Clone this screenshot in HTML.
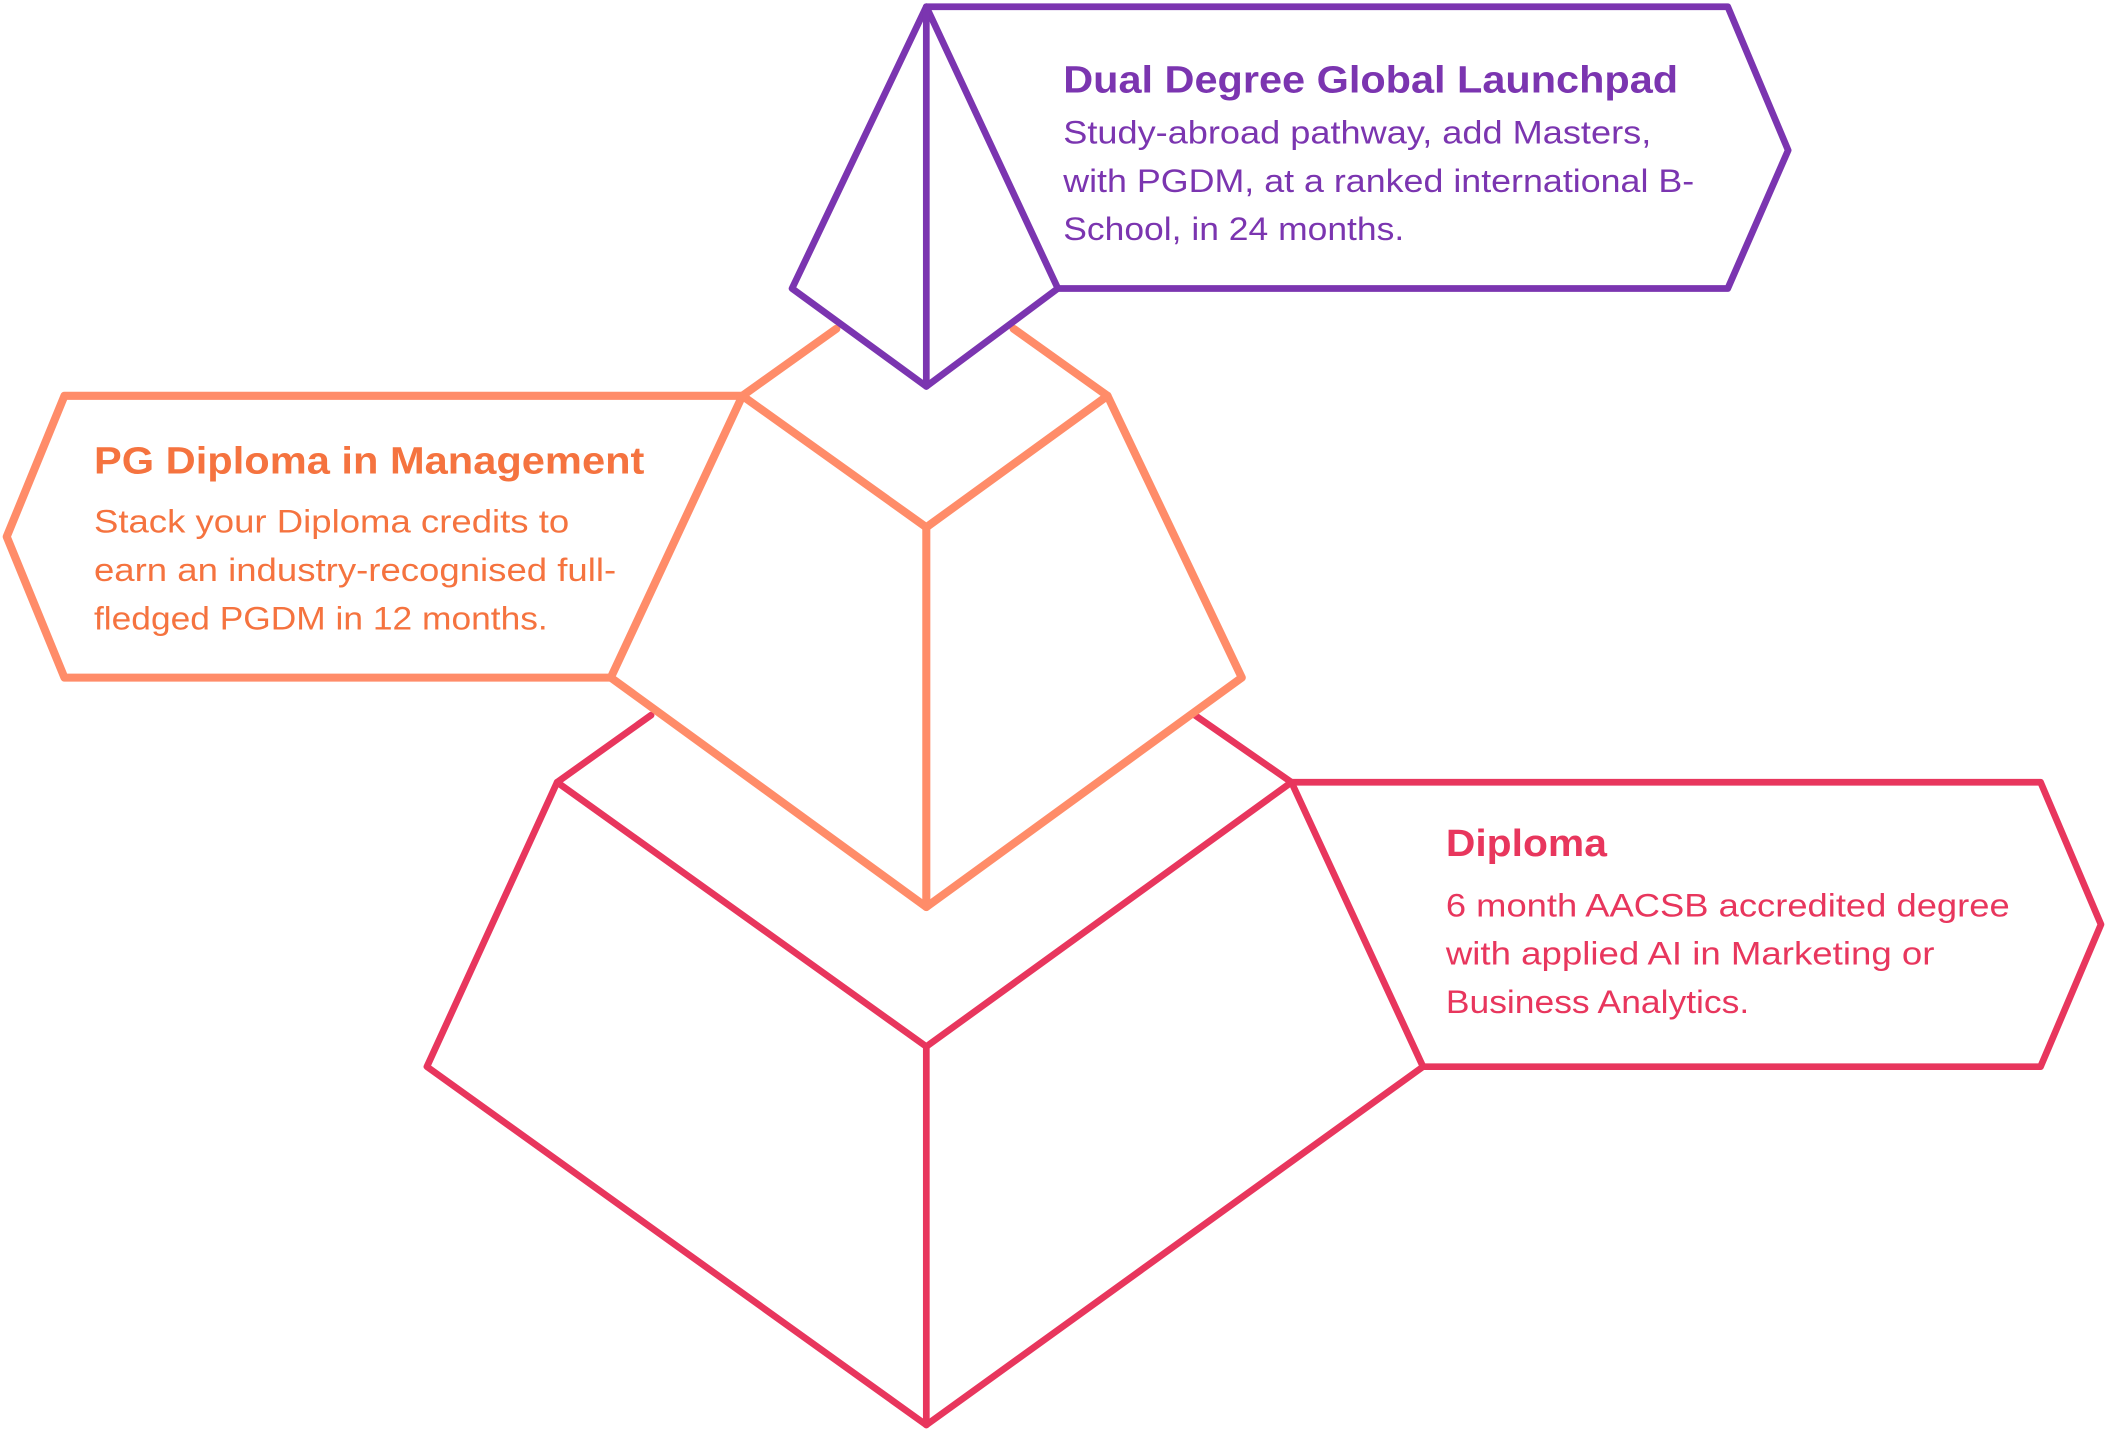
<!DOCTYPE html>
<html><head><meta charset="utf-8"><style>
html,body{margin:0;padding:0;background:#fff;}
svg{display:block;}
text{font-family:"Liberation Sans",sans-serif;}
</style></head><body>
<svg width="2105" height="1433" viewBox="0 0 1568 1068" preserveAspectRatio="none" xmlns="http://www.w3.org/2000/svg">
<g fill="none" stroke-linejoin="round" stroke-linecap="round" stroke-width="5">
<g stroke="#E8365D">
<polyline points="485,533 415,583 690,780 962,583 890,533"/>
<polyline points="415,583 318,795 690,1062 1060,795 962,583"/>
<line x1="690" y1="780" x2="690" y2="1062"/>
<polyline points="962,583 1520,583 1565,689 1520,795 1060,795"/>
</g>
<g stroke="#FF8C69" stroke-width="6">
<polyline points="623,245 553,295 690,393 825,295 755,245"/>
<polyline points="553,295 455,505 690,676 925,505 825,295"/>
<line x1="690" y1="393" x2="690" y2="676"/>
<polyline points="553,295 48,295 5,400 48,505 455,505"/>
</g>
<g stroke="#7B35B0">
<polygon points="690,5 590,215 690,288 788,215"/>
<line x1="690" y1="5" x2="690" y2="288"/>
<polyline points="690,5 1287,5 1332,112 1287,215 788,215"/>
</g>
</g>
<g fill="#7B35B0">
<text x="792" y="69" font-size="28" font-weight="bold" textLength="458" lengthAdjust="spacingAndGlyphs">Dual Degree Global Launchpad</text>
<text x="792" y="107" font-size="24" textLength="438" lengthAdjust="spacingAndGlyphs">Study-abroad pathway, add Masters,</text>
<text x="792" y="143" font-size="24" textLength="470" lengthAdjust="spacingAndGlyphs">with PGDM, at a ranked international B-</text>
<text x="792" y="179" font-size="24" textLength="254" lengthAdjust="spacingAndGlyphs">School, in 24 months.</text>
</g>
<g fill="#F5733F">
<text x="70" y="353" font-size="28" font-weight="bold" textLength="410" lengthAdjust="spacingAndGlyphs">PG Diploma in Management</text>
<text x="70" y="397" font-size="24" textLength="354" lengthAdjust="spacingAndGlyphs">Stack your Diploma credits to</text>
<text x="70" y="433" font-size="24" textLength="389" lengthAdjust="spacingAndGlyphs">earn an industry-recognised full-</text>
<text x="70" y="469" font-size="24" textLength="338" lengthAdjust="spacingAndGlyphs">fledged PGDM in 12 months.</text>
</g>
<g fill="#E8365D">
<text x="1077" y="638" font-size="28" font-weight="bold" textLength="120" lengthAdjust="spacingAndGlyphs">Diploma</text>
<text x="1077" y="683" font-size="24" textLength="420" lengthAdjust="spacingAndGlyphs">6 month AACSB accredited  degree</text>
<text x="1077" y="719" font-size="24" textLength="364" lengthAdjust="spacingAndGlyphs">with applied AI in Marketing or</text>
<text x="1077" y="755" font-size="24" textLength="226" lengthAdjust="spacingAndGlyphs">Business Analytics.</text>
</g>
</svg>
</body></html>
